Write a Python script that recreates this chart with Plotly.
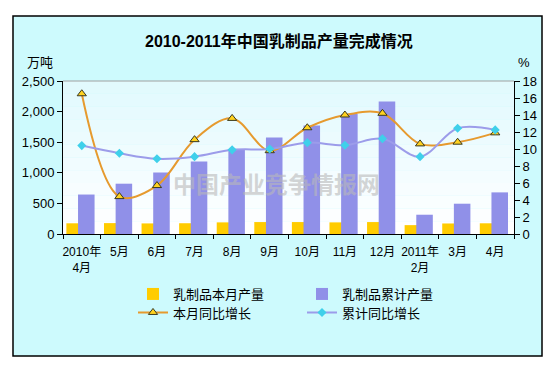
import plotly.graph_objects as go

months = ["2010年<br>4月", "5月", "6月", "7月", "8月", "9月", "10月", "11月", "12月",
          "2011年<br>2月", "3月", "4月"]
monthly_output = [175, 178, 173, 176, 190, 195, 195, 190, 195, 145, 172, 175]
cumulative_output = [645, 822, 1005, 1185, 1390, 1578, 1774, 1960, 2165, 315, 495, 680]
monthly_growth = [16.5, 4.4, 5.7, 11.1, 13.6, 9.8, 12.5, 14.0, 14.2, 10.6, 10.8, 11.9]
cumulative_growth = [10.4, 9.5, 8.85, 9.1, 9.9, 10.0, 10.75, 10.45, 11.2, 9.1, 12.45, 12.25]

# window size and page body margin offset
WIN_W, WIN_H = 552, 367
OFF = 8
W, H = WIN_W - OFF, WIN_H - OFF
# plot area in window pixel coordinates
L, R, T, B = 63, 514, 81, 234


def xp(px):
    return (px - L) / (R - L)


def yp(py):
    return (B - py) / (B - T)


FONT = "Arial, Liberation Sans, Noto Sans CJK SC, sans-serif"

fig = go.Figure()
fig.add_trace(go.Bar(x=months, y=monthly_output, name="乳制品本月产量",
                     marker=dict(color="#FFCC00", line=dict(width=0)),
                     offset=-0.41, width=0.33, legend="legend"))
fig.add_trace(go.Bar(x=months, y=cumulative_output, name="乳制品累计产量",
                     marker=dict(color="#9090E8", line=dict(width=0)),
                     offset=-0.1, width=0.44, legend="legend2"))
fig.add_trace(go.Scatter(x=months, y=monthly_growth, name="本月同比增长", yaxis="y2",
                         mode="lines+markers", line=dict(color="#E69A2E", width=2, shape="spline"),
                         marker=dict(symbol="triangle-up", size=8, color="#FFD21F",
                                     line=dict(color="#3A3A20", width=1)),
                         legend="legend3"))
fig.add_trace(go.Scatter(x=months, y=cumulative_growth, name="累计同比增长", yaxis="y2",
                         mode="lines+markers", line=dict(color="#9C9CEA", width=2, shape="spline"),
                         marker=dict(symbol="diamond", size=7, color="#3FD0EA",
                                     line=dict(width=0)),
                         legend="legend4"))

shapes = []
# outer frame
shapes.append(dict(type="rect", xref="paper", yref="paper", layer="below",
                   x0=xp(13), x1=xp(542), y0=yp(356), y1=yp(16),
                   fillcolor="#CDFAFD", line=dict(color="#000000", width=1.5)))
# plot area gradient strips
n = 12
for i in range(n):
    t = i / (n - 1)
    r = int(255 - t * (255 - 226))
    g = int(255 - t * (255 - 250))
    b = 255 - int(t * 2)
    y0 = B - (B - T) * i / n
    y1 = B - (B - T) * (i + 1) / n
    shapes.append(dict(type="rect", xref="paper", yref="paper", layer="below",
                       x0=0, x1=1, y0=yp(y0), y1=yp(y1),
                       fillcolor=f"rgb({r},{g},{b})", line=dict(width=0)))
shapes.append(dict(type="line", xref="paper", yref="paper", layer="below",
                   x0=0, x1=1, y0=1, y1=1, line=dict(color="#A0A0A0", width=1)))

annotations = [
    dict(text="<b>2010-2011年中国乳制品产量完成情况</b>", xref="paper", yref="paper",
         x=xp(279), y=yp(41), showarrow=False, xanchor="center", yanchor="middle",
         font=dict(family="Arial, Noto Sans CJK SC", size=16, color="#000000")),
    dict(text="万吨", xref="paper", yref="paper", x=xp(40), y=yp(62),
         showarrow=False, xanchor="center", yanchor="middle",
         font=dict(family=FONT, size=13, color="#000000")),
    dict(text="%", xref="paper", yref="paper", x=xp(524), y=yp(62),
         showarrow=False, xanchor="center", yanchor="middle",
         font=dict(family=FONT, size=13, color="#000000")),
    dict(text="<b>中国产业竞争情报网</b>", xref="paper", yref="paper", x=xp(276), y=yp(183),
         showarrow=False, xanchor="center", yanchor="middle",
         font=dict(family="Noto Sans CJK SC", size=23, color="rgba(185,185,185,0.6)")),
]

leg_common = dict(xanchor="left", yanchor="top", bgcolor="rgba(0,0,0,0)",
                  font=dict(size=13), tracegroupgap=0)

fig.update_layout(
    template="none",
    width=W, height=H,
    margin=dict(l=L - OFF, r=WIN_W - R, t=T - OFF, b=WIN_H - B, autoexpand=False),
    paper_bgcolor="#FFFFFF",
    plot_bgcolor="rgba(0,0,0,0)",
    barmode="overlay",
    showlegend=True,
    font=dict(family=FONT, size=13, color="#000000"),
    shapes=shapes,
    annotations=annotations,
    xaxis=dict(type="category", showline=True, linecolor="#000000", linewidth=1,
               ticks="outside", tickson="boundaries", ticklen=4, tickcolor="#000000",
               showgrid=False, tickfont=dict(size=12), range=[-0.5, 11.5],
               tickangle=0, automargin=False, ticklabelstandoff=7),
    yaxis=dict(range=[0, 2500], dtick=500, tickformat=",", showline=True,
               linecolor="#000000", linewidth=1, ticks="outside", ticklen=5,
               tickcolor="#000000", showgrid=False, zeroline=False,
               tickfont=dict(size=13), automargin=False),
    yaxis2=dict(range=[0, 18], dtick=2, overlaying="y", side="right", showline=True,
                linecolor="#000000", linewidth=1, ticks="outside", ticklen=5,
                tickcolor="#000000", showgrid=False, zeroline=False,
                tickfont=dict(size=13), automargin=False),
    legend=dict(x=xp(133), y=yp(279), **leg_common),
    legend2=dict(x=xp(302), y=yp(279), **leg_common),
    legend3=dict(x=xp(133), y=yp(297.5), **leg_common),
    legend4=dict(x=xp(302), y=yp(297.5), **leg_common),
)

fig.write_html("out.html")
